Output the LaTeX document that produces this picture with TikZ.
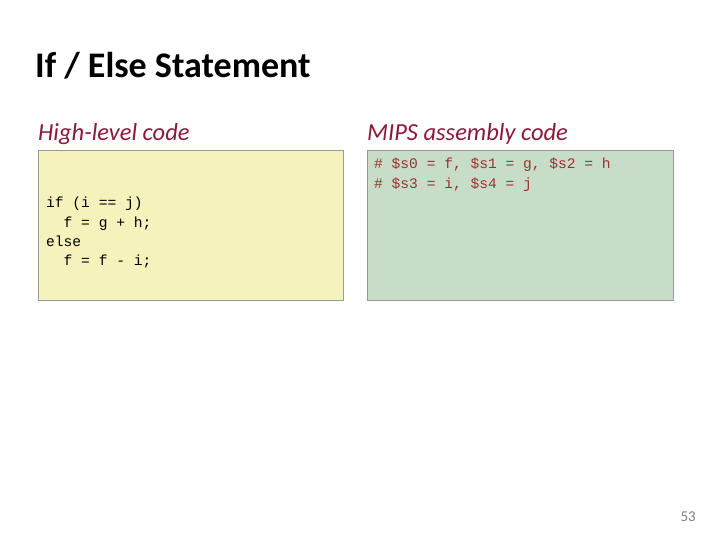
\documentclass[tikz,border=0pt]{standalone}
\usepackage{fontspec}
\setmainfont{Carlito}
\setmonofont{Liberation Mono}
\definecolor{hred}{HTML}{8B1A3A}
\definecolor{cred}{HTML}{9A3030}
\definecolor{ybox}{HTML}{F5F2BB}
\definecolor{gbox}{HTML}{C8DDC8}
\begin{document}
\begin{tikzpicture}[x=1pt,y=-1pt,
  head/.style={anchor=base west,font=\fontsize{24.5}{28}\selectfont\itshape,text=hred,inner sep=0},
  box/.style={draw=gray!80,line width=0.8pt},
  code/.style={anchor=north west,font=\fontsize{14.6}{19.3}\selectfont\ttfamily,inner sep=0,align=left}]
\useasboundingbox (0,0) rectangle (720,540);
\node[anchor=base west,inner sep=0,font=\fontsize{36}{40}\selectfont\bfseries] (title) at (35,78) {If / Else Statement};
\node[head] (h1) at (38,141) {High-level code};
\node[head] (h2) at (367,141) {MIPS assembly code};
\draw[box,fill=ybox] (38,150) rectangle (343,300);
\draw[box,fill=gbox] (367,150) rectangle (673,300);
\node[code] (c1) at (46,197) {if (i == j)\\\ \ f = g + h;\\else\\\ \ f = f - i;};
\node[code,text=cred] (c2) at (374,158) {\# \$s0 = f, \$s1 = g, \$s2 = h\\\# \$s3 = i, \$s4 = j};
\node[anchor=base east,inner sep=0,font=\fontsize{15}{17}\selectfont,text=gray] (pg) at (696,521) {53};
\end{tikzpicture}
\end{document}
